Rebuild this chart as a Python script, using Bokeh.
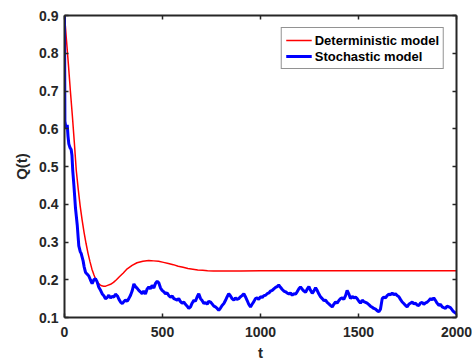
from bokeh.plotting import figure
from bokeh.models import Range1d, LinearAxis, FixedTicker, Legend, LegendItem
from bokeh.embed import file_html
from bokeh.resources import INLINE

# Deterministic model
t_det = [0, 10, 20, 30, 40, 50, 60, 70, 80, 90, 100, 110, 120, 130, 140, 150, 160, 170, 180,
         190, 200, 210, 220, 235, 250, 265, 280, 300, 320, 345, 370, 400, 430, 455, 480, 505,
         530, 555, 580, 605, 630, 655, 680, 705, 730, 760, 800, 900, 1000, 1200, 1400, 1600,
         1800, 2000]
q_det = [0.9, 0.835, 0.77, 0.70, 0.635, 0.565, 0.49, 0.44, 0.395, 0.358, 0.325, 0.296, 0.27,
         0.248, 0.228, 0.213, 0.200, 0.192, 0.187, 0.184, 0.183, 0.183, 0.185, 0.188, 0.193,
         0.2, 0.208, 0.218, 0.229, 0.238, 0.245, 0.249, 0.251, 0.250, 0.249, 0.246, 0.243,
         0.240, 0.236, 0.233, 0.230, 0.228, 0.226, 0.225, 0.224, 0.223, 0.223, 0.223, 0.224,
         0.224, 0.224, 0.224, 0.224, 0.224]

# Stochastic model
t_sto = [0, 2, 8, 14, 18, 22, 28, 34, 38, 42, 48, 52, 56, 60, 65, 70, 73, 80, 85, 90, 95, 100,
         107, 115, 124, 132, 141, 150, 158, 166, 175, 184, 192, 200, 209, 218, 226, 235, 244,
         252, 260, 270, 278, 286, 295, 303, 311, 320, 328, 337, 345, 354, 362, 370, 379, 387,
         396, 404, 413, 421, 430, 438, 447, 456, 464, 473, 481, 490, 498, 507, 515, 524, 532,
         541, 550, 558, 567, 575, 583, 592, 600, 609, 617, 626, 634, 643, 651, 660, 668, 677,
         685, 694, 702, 711, 719, 728, 736, 745, 753, 762, 770, 779, 787, 796, 804, 813, 821,
         830, 838, 847, 855, 864, 872, 880, 889, 898, 906, 915, 923, 932, 940, 949, 957, 966,
         974, 983, 991, 1000, 1009, 1017, 1026, 1034, 1043, 1051, 1060, 1068, 1077, 1085, 1093,
         1102, 1110, 1119, 1128, 1136, 1145, 1153, 1162, 1170, 1179, 1187, 1196, 1204, 1213,
         1221, 1230, 1238, 1247, 1255, 1264, 1272, 1281, 1289, 1298, 1306, 1315, 1323, 1332,
         1340, 1349, 1357, 1366, 1374, 1383, 1391, 1400, 1408, 1417, 1425, 1434, 1442, 1451,
         1459, 1468, 1476, 1485, 1493, 1502, 1510, 1519, 1527, 1536, 1544, 1553, 1561, 1570,
         1578, 1587, 1595, 1604, 1612, 1621, 1629, 1638, 1646, 1655, 1663, 1672, 1680, 1689,
         1697, 1706, 1714, 1723, 1731, 1740, 1748, 1757, 1765, 1774, 1782, 1791, 1799, 1808,
         1816, 1825, 1833, 1842, 1851, 1859, 1868, 1876, 1884, 1893, 1901, 1910, 1918, 1927,
         1935, 1944, 1952, 1961, 1969, 1978, 1986, 1995, 2000]
q_sto = [0.9, 0.62, 0.60, 0.61, 0.58, 0.56, 0.55, 0.545, 0.53, 0.49, 0.45, 0.42, 0.39, 0.37,
         0.345, 0.31, 0.29, 0.275, 0.27, 0.26, 0.25, 0.235, 0.22, 0.215, 0.21, 0.2, 0.19, 0.2,
         0.203, 0.195, 0.18, 0.172, 0.163, 0.158, 0.15, 0.153, 0.159, 0.152, 0.156, 0.154,
         0.162, 0.157, 0.148, 0.141, 0.137, 0.142, 0.146, 0.143, 0.15, 0.159, 0.17, 0.189,
         0.182, 0.178, 0.172, 0.168, 0.163, 0.17, 0.162, 0.175, 0.181, 0.176, 0.185, 0.178,
         0.19, 0.196, 0.192, 0.178, 0.172, 0.168, 0.163, 0.165, 0.158, 0.154, 0.157, 0.15,
         0.148, 0.146, 0.15, 0.142, 0.138, 0.141, 0.135, 0.13, 0.124, 0.128, 0.138, 0.146,
         0.143, 0.155, 0.163, 0.15, 0.145, 0.137, 0.14, 0.135, 0.143, 0.141, 0.136, 0.13,
         0.128, 0.124, 0.119, 0.125, 0.132, 0.137, 0.145, 0.155, 0.163, 0.157, 0.15, 0.146,
         0.152, 0.148, 0.15, 0.155, 0.158, 0.163, 0.155, 0.145, 0.135, 0.128, 0.135, 0.142,
         0.15, 0.152, 0.148, 0.155, 0.153, 0.158, 0.159, 0.163, 0.165, 0.17, 0.172, 0.176,
         0.18, 0.182, 0.186, 0.18, 0.175, 0.17, 0.168, 0.165, 0.162, 0.165, 0.159, 0.163,
         0.162, 0.168, 0.176, 0.181, 0.175, 0.17, 0.167, 0.175, 0.182, 0.172, 0.164, 0.17,
         0.179, 0.172, 0.162, 0.155, 0.15, 0.145, 0.146, 0.14, 0.136, 0.132, 0.128, 0.135,
         0.141, 0.138, 0.145, 0.15, 0.152, 0.148, 0.158, 0.172, 0.162, 0.15, 0.156, 0.152,
         0.154, 0.15, 0.143, 0.138, 0.146, 0.142, 0.14, 0.138, 0.134, 0.13, 0.127, 0.124,
         0.122, 0.118, 0.115, 0.122, 0.15, 0.154, 0.152, 0.158, 0.162, 0.16, 0.165, 0.16,
         0.163, 0.158, 0.155, 0.148, 0.141, 0.137, 0.132, 0.128, 0.135, 0.138, 0.141, 0.136,
         0.138, 0.133, 0.132, 0.138, 0.14, 0.135, 0.139, 0.141, 0.145, 0.15, 0.147, 0.152,
         0.145, 0.138, 0.132, 0.135, 0.128, 0.126, 0.124, 0.13, 0.128, 0.126, 0.12, 0.115,
         0.112, 0.11]

x_ticks = [0, 500, 1000, 1500, 2000]
y_ticks = [0.1, 0.2, 0.3, 0.4, 0.5, 0.6, 0.7, 0.8, 0.9]
series_names = ["Deterministic model", "Stochastic model"]
x_label = "t"
y_label = "Q(t)"

FONT = "Liberation Sans"
AX = "#262626"

p = figure(width=472, height=363, output_backend="svg", toolbar_location=None,
           x_range=Range1d(0, 2000), y_range=Range1d(0.1, 0.9),
           min_border_left=64, min_border_right=16, min_border_top=15, min_border_bottom=44,
           x_axis_label=x_label, y_axis_label=y_label)
p.grid.visible = False
p.outline_line_color = None
p.background_fill_color = "white"
p.border_fill_color = "white"

r_det = p.line(t_det, q_det, line_color="#ff0000", line_width=1.5)
r_sto = p.line(t_sto, q_sto, line_color="#0000ff", line_width=3)


def style(ax, ticks, labels=True):
    ax.ticker = FixedTicker(ticks=ticks)
    ax.axis_line_color = AX
    ax.axis_line_width = 2
    ax.major_tick_line_color = AX
    ax.major_tick_line_width = 1.5
    ax.major_tick_in = 4
    ax.major_tick_out = 0
    ax.minor_tick_line_color = None
    ax.major_label_text_font = FONT
    ax.major_label_text_font_style = "bold"
    ax.axis_label_text_font = FONT
    ax.axis_label_text_font_style = "bold"
    ax.axis_label_text_font_size = "15px"
    ax.axis_label_text_color = AX
    if labels:
        ax.major_label_text_font_size = "14px"
        ax.major_label_text_color = AX
    else:
        # frame-only axis: ticks but no drawn labels
        ax.major_label_text_font_size = "2px"
        ax.major_label_text_color = None
        ax.major_label_standoff = 0


style(p.xaxis[0], x_ticks)
style(p.yaxis[0], y_ticks)
p.xaxis[0].major_label_standoff = 9
p.xaxis[0].axis_label_standoff = 4
p.yaxis[0].major_label_standoff = 6
p.yaxis[0].axis_label_standoff = 6

top = LinearAxis()
style(top, x_ticks, labels=False)
p.add_layout(top, "above")
right = LinearAxis()
style(right, y_ticks, labels=False)
p.add_layout(right, "right")

legend = Legend(items=[LegendItem(label=series_names[0], renderers=[r_det]),
                       LegendItem(label=series_names[1], renderers=[r_sto])],
                location="top_right", margin=12, padding=4, spacing=0,
                glyph_width=26, glyph_height=16, label_height=16, label_standoff=3,
                label_text_font=FONT, label_text_font_style="bold",
                label_text_font_size="13px", label_text_color="black",
                border_line_color=AX, border_line_width=1.5,
                background_fill_color="white", background_fill_alpha=1)
p.add_layout(legend)

open("out.html", "w").write(file_html(p, INLINE))
